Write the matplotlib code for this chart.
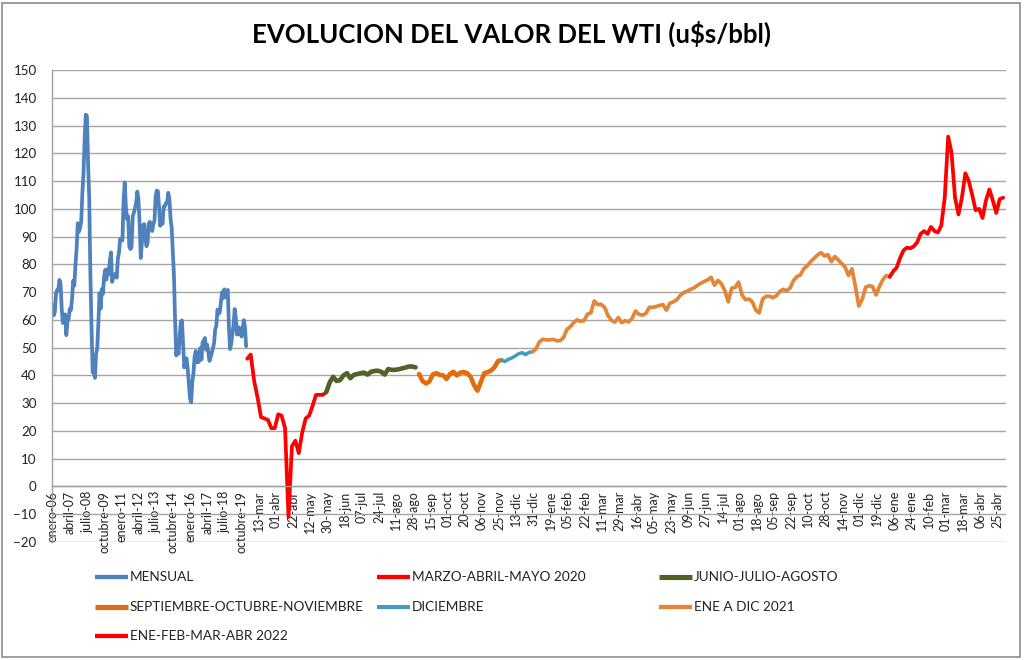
import numpy as np
import matplotlib
matplotlib.use("Agg")
import matplotlib.pyplot as plt
from matplotlib.lines import Line2D
from matplotlib.patches import Rectangle

plt.rcParams['font.family'] = ['Lato', 'DejaVu Sans']

# ---------------- DATA ----------------
title = "EVOLUCION DEL VALOR DEL WTI (u$s/bbl)"

# Monthly average Jan-2006 .. Feb-2020
mensual = [
    65.5, 61.6, 62.9, 69.4, 70.8, 70.9, 74.4, 73.0, 63.8, 58.9, 59.1, 62.0,
    54.5, 59.3, 60.4, 64.0, 63.5, 67.5, 74.1, 72.4, 79.9, 85.8, 94.8, 91.7,
    93.0, 95.4, 105.5, 112.6, 125.4, 133.9, 133.4, 116.7, 104.1, 76.6, 57.3, 41.1,
    41.7, 39.1, 47.9, 49.7, 59.0, 69.6, 64.1, 71.1, 69.4, 75.7, 78.0, 74.5,
    78.3, 76.4, 81.2, 84.3, 73.7, 75.3, 76.3, 76.6, 75.2, 81.9, 84.3, 89.2,
    89.2, 88.6, 102.9, 109.5, 100.9, 96.3, 97.3, 86.3, 85.5, 86.3, 97.2, 98.6,
    100.3, 102.2, 106.2, 103.3, 94.7, 82.3, 87.9, 94.1, 94.5, 89.5, 86.5, 87.9,
    94.8, 95.3, 92.9, 92.0, 94.5, 95.8, 104.6, 106.6, 106.3, 100.5, 93.9, 97.6,
    94.6, 100.8, 100.8, 102.1, 102.2, 105.8, 103.6, 96.5, 93.2, 84.4, 75.8, 59.3,
    47.2, 50.6, 47.8, 54.5, 59.3, 59.8, 50.9, 42.9, 45.5, 46.2, 42.4, 37.2,
    31.7, 30.3, 37.6, 40.8, 46.7, 48.8, 44.7, 44.7, 45.2, 49.8, 45.7, 52.0,
    52.5, 53.5, 49.3, 51.1, 48.5, 45.2, 46.6, 48.0, 49.8, 51.6, 56.6, 57.9,
    63.7, 62.2, 62.7, 66.3, 70.0, 67.9, 71.0, 68.1, 70.2, 70.8, 57.0, 49.5,
    51.4, 55.0, 58.2, 63.9, 60.8, 54.7, 57.4, 54.8, 57.0, 54.0, 57.0, 59.9,
    57.5, 50.5,
]

# Daily series (one value every 3 trading-day categories)
mar_may_2020 = [46, 47.5, 38, 32, 25, 24.5, 24, 21, 21, 26,
                25.5, 21, -11, 14.5, 16.5, 12, 19.5, 24.5, 25.5, 29,
                33, 33, 33, 34]
jun_ago_2020 = [34, 37.5, 39.5, 38, 38.3, 40, 40.8, 39, 40.2, 40.5,
                40.8, 41, 40.3, 41.3, 41.6, 41.7, 41.3, 40.3, 42.3, 42,
                42, 42.2, 42.5, 42.8, 43.2, 43.2, 42.9]
sep_nov_2020 = [40.5, 38, 37.1, 37.8, 40.3, 40.8, 40.2, 40, 38.7, 40.5,
                41.3, 40, 41, 41.2, 40.8, 39.5, 36.5, 34.5, 37.7, 40.8,
                41.2, 41.8, 43, 45.2, 45.5]
dic_2020 = [45.5, 45, 45.8, 46.3, 47, 47.8, 48.2, 47.5, 48.3, 48.5]
ene_dic_2021 = [
    48.5, 49.5, 52, 53, 52.8, 52.8, 53, 52.5, 52.5, 53.5,
    56.5, 57.5, 59, 60, 59.5, 59.7, 62, 62.5, 66.8, 65.5,
    65.6, 64.5, 61.5, 59.8, 59.2, 60.8, 59, 59.7, 59.3, 60.5,
    63.2, 62, 61.7, 62.3, 64.5, 64.5, 64.8, 65.2, 65.5, 63.5,
    66, 66.5, 67.2, 68.8, 69.8, 70.3, 71, 71.5, 72.4, 73.2,
    73.8, 74.4, 75.3, 72.5, 74.2, 73, 70.5, 66.5, 71.4, 71.7,
    73.6, 69, 67.3, 67.5, 66.5, 63.5, 62.5, 67.5, 68.5, 68.5,
    68, 68.7, 70.2, 71, 70.5, 71.5, 74.2, 75.6, 76.2, 78.5,
    79.5, 81, 82.2, 83.4, 84.2, 83, 83.5, 81, 82.8, 81.6,
    80.3, 79, 76, 78.4, 72, 65, 67.5, 71.8, 72.3, 72,
    69, 72, 74.5, 76, 75.5,
]
ene_abr_2022 = [75.5, 77.5, 78.8, 82.3, 85, 86, 85.8, 86.5, 88, 91,
                92, 91, 93.5, 92, 91.5, 94, 104, 126, 120, 104,
                98, 104, 112.8, 110, 105, 99.5, 100, 96.7, 103, 107,
                103, 98.5, 103.5, 104]

x_labels = ['enero-06', 'abril-07', 'julio-08', 'octubre-09', 'enero-11', 'abril-12',
            'julio-13', 'octubre-14', 'enero-16', 'abril-17', 'julio-18', 'octubre-19',
            '13-mar', '01-abr', '22-abr', '12-may', '30-may', '18-jun', '07-jul',
            '24-jul', '11-ago', '28-ago', '15-sep', '01-oct', '20-oct', '06-nov',
            '25-nov', '13-dic', '31-dic', '19-ene', '05-feb', '22-feb', '11-mar',
            '29-mar', '16-abr', '05-may', '23-may', '09-jun', '27-jun', '14-jul',
            '01-ago', '18-ago', '05-sep', '22-sep', '10-oct', '28-oct', '14-nov',
            '01-dic', '19-dic', '06-ene', '24-ene', '10-feb', '01-mar', '18-mar',
            '06-abr', '25-abr']

# ---------------- STYLE / LAYOUT ----------------
LABEL_EVERY = 15      # categories between tick labels
DAILY_STEP = 3        # categories represented by each daily value
N_CATS = 833

W, H = 1024, 660
fig = plt.figure(figsize=(W / 100, H / 100), dpi=100)
ax = fig.add_axes([52 / W, 1 - 542 / H, (1006 - 52) / W, (542 - 70) / H])

# axis lines first (set_position resets tick properties)
for s in ['top', 'right']:
    ax.spines[s].set_visible(False)
ax.spines['bottom'].set_position(('data', 0))
ax.spines['bottom'].set_color('#A0A0A0')
ax.spines['bottom'].set_linewidth(1.0)
ax.spines['left'].set_color('#A0A0A0')
ax.spines['left'].set_linewidth(1.0)

series_daily = [
    # name, values, color, lw, joined to previous
    ('MARZO-ABRIL-MAYO 2020', mar_may_2020, '#FF0000', 2.7, False),
    ('JUNIO-JULIO-AGOSTO', jun_ago_2020, '#4F6228', 3.3, True),
    ('SEPTIEMBRE-OCTUBRE-NOVIEMBRE', sep_nov_2020, '#E46C0A', 3.3, False),
    ('DICIEMBRE', dic_2020, '#3F9EC0', 2.5, True),
    ('ENE A DIC 2021', ene_dic_2021, '#E2873A', 2.7, True),
    ('ENE-FEB-MAR-ABR 2022', ene_abr_2022, '#FF0000', 2.7, True),
]

handles = {}
xm = np.arange(len(mensual))
ax.plot(xm, mensual, color='#4F81BD', lw=2.7, solid_capstyle='round',
        solid_joinstyle='round', label='MENSUAL')
handles['MENSUAL'] = ('#4F81BD', 2.7)

prev_end = None
for name, vals, color, lw, joined in series_daily:
    if prev_end is None:
        start = 0
    else:
        start = prev_end if joined else prev_end + 1
    ks = start + np.arange(len(vals))
    xs = len(mensual) + DAILY_STEP * ks
    ax.plot(xs, vals, color=color, lw=lw, solid_capstyle='round',
            solid_joinstyle='round', label=name)
    handles[name] = (color, lw)
    prev_end = ks[-1]

ax.set_xlim(-0.5, N_CATS - 0.5)
ax.set_ylim(-20, 150)
ax.set_yticks(np.arange(-20, 151, 10))
ax.set_xticks(np.arange(len(x_labels)) * LABEL_EVERY)
ax.set_xticklabels(x_labels, rotation=90, fontsize=9, color='#222222')
ax.tick_params(axis='x', length=0, pad=3)
ax.tick_params(axis='y', length=0, pad=11, labelsize=9.6, labelcolor='#222222')

ax.grid(axis='y', color='#A6A6A6', lw=1.0)
ax.set_axisbelow(True)

fig.text(512 / W, 1 - 34 / H, title, ha='center', va='center', fontsize=18.5,
         fontweight='bold', color='#000000', parse_math=False)

# Legend (Excel-like, row-major, fixed column grid)
legend_rows = [
    ['MENSUAL', 'MARZO-ABRIL-MAYO 2020', 'JUNIO-JULIO-AGOSTO'],
    ['SEPTIEMBRE-OCTUBRE-NOVIEMBRE', 'DICIEMBRE', 'ENE A DIC 2021'],
    ['ENE-FEB-MAR-ABR 2022'],
]
col_x = [95, 377, 659]
row_y = [577, 607, 636]
for r, row in enumerate(legend_rows):
    for c, name in enumerate(row):
        color, lw = handles[name]
        x0 = col_x[c]
        y = 1 - row_y[r] / H
        fig.add_artist(Line2D([x0 / W, (x0 + 33) / W], [y, y], color=color,
                              lw=lw + 0.4, solid_capstyle='butt'))
        fig.text((x0 + 35) / W, y, name, ha='left', va='center', fontsize=9.8,
                 color='#222222')

fig.add_artist(Rectangle((2 / W, 3 / H), 1018 / W, 654 / H, transform=fig.transFigure,
                         fill=False, edgecolor='#8C8C8C', lw=1.2))

fig.savefig('out.png', dpi=100)
